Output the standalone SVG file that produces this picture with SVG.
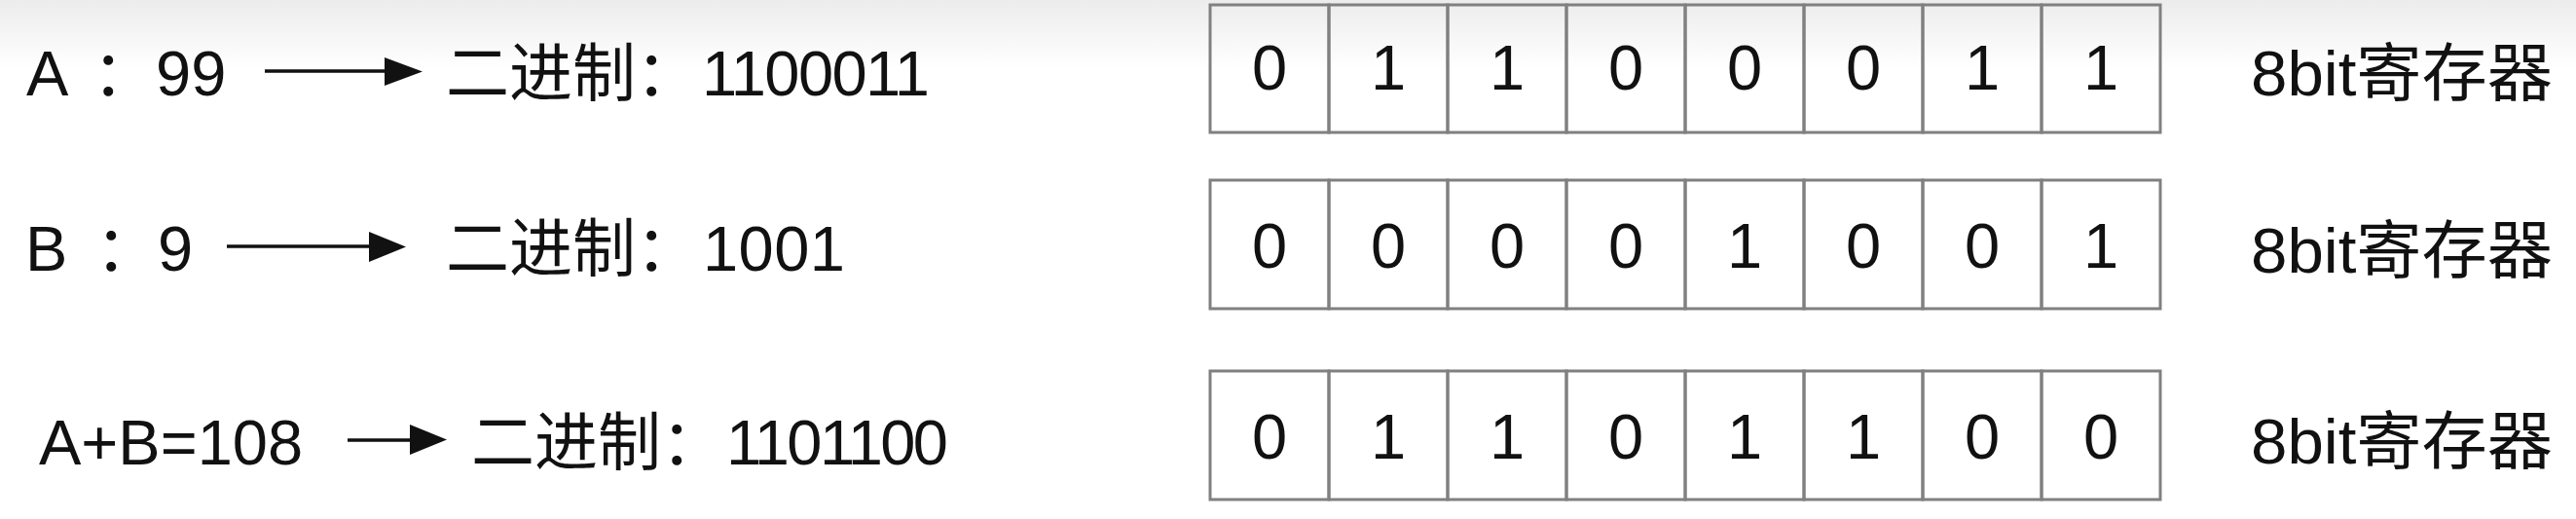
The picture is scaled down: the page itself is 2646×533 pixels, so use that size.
<svg xmlns="http://www.w3.org/2000/svg" width="2646" height="533" viewBox="0 0 2646 533">
<style>
.t{font-family:'Liberation Sans','Noto Sans CJK SC',sans-serif;font-size:65px;fill:#111;}
.d{font-family:'Liberation Sans',sans-serif;font-size:65px;fill:#111;text-anchor:middle;}
.cell{fill:none;stroke:#808080;stroke-width:3;}
.ln{stroke:#111;stroke-width:3.5;fill:none;}
.hd{fill:#111;}
</style>
<defs>
<linearGradient id="bg" x1="0" y1="0" x2="0" y2="1">
<stop offset="0" stop-color="#ececec"/>
<stop offset="1" stop-color="#ffffff"/>
</linearGradient>
</defs>
<rect width="2646" height="533" fill="#ffffff"/>
<rect width="2646" height="70" fill="url(#bg)"/>

<g id="labelA">
<text class="t" x="27" y="98">A<tspan x="95">：</tspan><tspan x="160">99</tspan></text>
</g>
<g id="binA"><text class="t" x="458" y="98">二进制：</text><text class="t" x="721" y="98" textLength="234" lengthAdjust="spacing">1100011</text></g>

<g id="labelB">
<text class="t" x="26" y="278">B<tspan x="98">：</tspan><tspan x="162">9</tspan></text>
</g>
<g id="binB"><text class="t" x="458" y="278">二进制：</text><text class="t" x="722" y="278" textLength="146" lengthAdjust="spacing">1001</text></g>

<g id="labelSum">
<text class="t" x="40" y="477">A+B=108</text>
</g>
<g id="binSum"><text class="t" x="484" y="477">二进制：</text><text class="t" x="746" y="477" textLength="228" lengthAdjust="spacing">1101100</text></g>

<g id="connectors">
<line class="ln" x1="272" y1="73" x2="398" y2="73"/>
<polygon class="hd" points="395,59 434,73.5 395,88"/>
<line class="ln" x1="233" y1="253" x2="382" y2="253"/>
<polygon class="hd" points="379,238 417,253.5 379,269"/>
<line class="ln" x1="357" y1="452" x2="424" y2="452"/>
<polygon class="hd" points="421,436 459,451.5 421,467"/>
</g>

<g id="regA">
<rect class="cell" x="1243" y="5" width="122" height="131"/>
<rect class="cell" x="1365" y="5" width="122" height="131"/>
<rect class="cell" x="1487" y="5" width="122" height="131"/>
<rect class="cell" x="1609" y="5" width="122" height="131"/>
<rect class="cell" x="1731" y="5" width="122" height="131"/>
<rect class="cell" x="1853" y="5" width="122" height="131"/>
<rect class="cell" x="1975" y="5" width="122" height="131"/>
<rect class="cell" x="2097" y="5" width="122" height="131"/>
<text class="d" x="1304" y="92">0</text>
<text class="d" x="1426" y="92">1</text>
<text class="d" x="1548" y="92">1</text>
<text class="d" x="1670" y="92">0</text>
<text class="d" x="1792" y="92">0</text>
<text class="d" x="1914" y="92">0</text>
<text class="d" x="2036" y="92">1</text>
<text class="d" x="2158" y="92">1</text>
<text class="t" x="2312" y="98" textLength="310" lengthAdjust="spacingAndGlyphs">8bit寄存器</text>
</g>

<g id="regB">
<rect class="cell" x="1243" y="185" width="122" height="132"/>
<rect class="cell" x="1365" y="185" width="122" height="132"/>
<rect class="cell" x="1487" y="185" width="122" height="132"/>
<rect class="cell" x="1609" y="185" width="122" height="132"/>
<rect class="cell" x="1731" y="185" width="122" height="132"/>
<rect class="cell" x="1853" y="185" width="122" height="132"/>
<rect class="cell" x="1975" y="185" width="122" height="132"/>
<rect class="cell" x="2097" y="185" width="122" height="132"/>
<text class="d" x="1304" y="275">0</text>
<text class="d" x="1426" y="275">0</text>
<text class="d" x="1548" y="275">0</text>
<text class="d" x="1670" y="275">0</text>
<text class="d" x="1792" y="275">1</text>
<text class="d" x="1914" y="275">0</text>
<text class="d" x="2036" y="275">0</text>
<text class="d" x="2158" y="275">1</text>
<text class="t" x="2312" y="280" textLength="310" lengthAdjust="spacingAndGlyphs">8bit寄存器</text>
</g>

<g id="regSum">
<rect class="cell" x="1243" y="381" width="122" height="132"/>
<rect class="cell" x="1365" y="381" width="122" height="132"/>
<rect class="cell" x="1487" y="381" width="122" height="132"/>
<rect class="cell" x="1609" y="381" width="122" height="132"/>
<rect class="cell" x="1731" y="381" width="122" height="132"/>
<rect class="cell" x="1853" y="381" width="122" height="132"/>
<rect class="cell" x="1975" y="381" width="122" height="132"/>
<rect class="cell" x="2097" y="381" width="122" height="132"/>
<text class="d" x="1304" y="471">0</text>
<text class="d" x="1426" y="471">1</text>
<text class="d" x="1548" y="471">1</text>
<text class="d" x="1670" y="471">0</text>
<text class="d" x="1792" y="471">1</text>
<text class="d" x="1914" y="471">1</text>
<text class="d" x="2036" y="471">0</text>
<text class="d" x="2158" y="471">0</text>
<text class="t" x="2312" y="476" textLength="310" lengthAdjust="spacingAndGlyphs">8bit寄存器</text>
</g>
</svg>
